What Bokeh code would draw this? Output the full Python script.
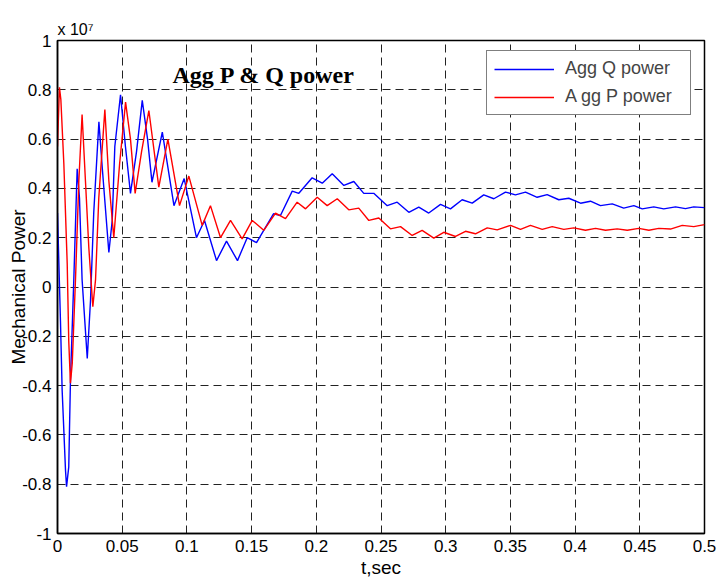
from bokeh.plotting import figure
from bokeh.models import Label, FixedTicker, Range1d
from bokeh.embed import file_html
from bokeh.resources import INLINE

# ---- data (values in units of 1e7) ----
t_q = [0.0, 0.0023, 0.0036, 0.0062, 0.0070, 0.0087, 0.0100, 0.0126, 0.0152, 0.0170,
       0.0190, 0.0230, 0.0255, 0.0280, 0.0320, 0.0345, 0.0397, 0.0423, 0.0443, 0.0487,
       0.0525, 0.0564, 0.0611, 0.0655, 0.0696, 0.0730, 0.0810, 0.0900, 0.0979, 0.1074,
       0.1136, 0.1229, 0.1306, 0.1391, 0.1466, 0.1538, 0.1669, 0.1723, 0.1814, 0.1865,
       0.1968, 0.2046, 0.2123, 0.2213, 0.2290, 0.2367, 0.2444, 0.2548, 0.2625, 0.2715,
       0.2792, 0.2869, 0.2960, 0.3037, 0.3127, 0.3205, 0.3294, 0.3372, 0.3462, 0.3539,
       0.3617, 0.3707, 0.3784, 0.3874, 0.3951, 0.4042, 0.4119, 0.4196, 0.4287, 0.4376,
       0.4454, 0.4519, 0.4608, 0.4685, 0.4776, 0.4853, 0.4917, 0.5]
q_power = [0.30, -0.14, -0.42, -0.745, -0.81, -0.73, -0.38, 0.03, 0.48, 0.36,
           0.03, -0.29, -0.055, 0.30, 0.67, 0.49, 0.14, 0.27, 0.57, 0.78,
           0.57, 0.38, 0.55, 0.757, 0.60, 0.425, 0.628, 0.33, 0.44, 0.20,
           0.27, 0.107, 0.186, 0.107, 0.20, 0.18, 0.297, 0.29, 0.389, 0.38,
           0.443, 0.421, 0.459, 0.412, 0.428, 0.38, 0.38, 0.33, 0.344, 0.303,
           0.324, 0.30, 0.335, 0.317, 0.354, 0.34, 0.374, 0.358, 0.385, 0.374,
           0.385, 0.364, 0.375, 0.354, 0.36, 0.34, 0.348, 0.33, 0.337, 0.32,
           0.33, 0.317, 0.325, 0.317, 0.325, 0.318, 0.325, 0.322]

t_p = [0.0, 0.0015, 0.0026, 0.0049, 0.0075, 0.0087, 0.0100, 0.0114, 0.0139, 0.0165,
       0.0190, 0.0216, 0.0242, 0.0273, 0.0294, 0.0319, 0.0366, 0.0397, 0.0435, 0.0480,
       0.0526, 0.0564, 0.0600, 0.0650, 0.0706, 0.0783, 0.0853, 0.0943, 0.1015, 0.1118,
       0.1182, 0.1260, 0.1337, 0.1427, 0.1505, 0.1594, 0.1685, 0.1762, 0.1852, 0.1917,
       0.2007, 0.2084, 0.2162, 0.2251, 0.2328, 0.2406, 0.2483, 0.2573, 0.2651, 0.2741,
       0.2818, 0.2908, 0.2985, 0.3076, 0.3153, 0.3230, 0.3321, 0.3398, 0.3501, 0.3578,
       0.3655, 0.3746, 0.3823, 0.3913, 0.3990, 0.4080, 0.4158, 0.4235, 0.4325, 0.4403,
       0.4492, 0.4570, 0.4647, 0.4737, 0.4828, 0.4917, 0.5]
p_power = [0.57, 0.81, 0.76, 0.50, 0.095, -0.22, -0.39, -0.31, 0.03, 0.43,
           0.70, 0.43, 0.16, -0.08, 0.03, 0.36, 0.72, 0.43, 0.20, 0.50,
           0.75, 0.60, 0.38, 0.55, 0.716, 0.405, 0.60, 0.33, 0.45, 0.25,
           0.33, 0.20, 0.27, 0.195, 0.27, 0.23, 0.30, 0.277, 0.344, 0.317,
           0.364, 0.33, 0.358, 0.313, 0.32, 0.27, 0.28, 0.236, 0.245, 0.209,
           0.23, 0.198, 0.222, 0.205, 0.226, 0.216, 0.24, 0.232, 0.25, 0.234,
           0.25, 0.234, 0.245, 0.234, 0.24, 0.23, 0.238, 0.23, 0.236, 0.23,
           0.238, 0.23, 0.238, 0.235, 0.25, 0.245, 0.253]

x_ticks = [0.0, 0.05, 0.1, 0.15, 0.2, 0.25, 0.3, 0.35, 0.4, 0.45, 0.5]
x_tick_labels = ["0", "0.05", "0.1", "0.15", "0.2", "0.25", "0.3", "0.35", "0.4", "0.45", "0.5"]
y_ticks = [-1.0, -0.8, -0.6, -0.4, -0.2, 0.0, 0.2, 0.4, 0.6, 0.8, 1.0]
y_tick_labels = ["-1", "-0.8", "-0.6", "-0.4", "-0.2", "0", "0.2", "0.4", "0.6", "0.8", "1"]

legend_labels = ["Agg Q power", "A gg P power"]
title_text = "Agg P & Q power"
exponent_text = "x 10\u2077"
x_label = "t,sec"
y_label = "Mechanical Power"

FONT = "Liberation Sans"

p = figure(width=719, height=583, output_backend="svg", toolbar_location=None,
           x_range=Range1d(0, 0.5), y_range=Range1d(-1, 1),
           min_border_left=57, min_border_right=15, min_border_top=40, min_border_bottom=50)
p.background_fill_color = "white"
p.border_fill_color = "white"
p.outline_line_color = "black"
p.outline_line_width = 1.5

p.line(t_q, q_power, line_color="#0000ff", line_width=1.4, legend_label=legend_labels[0])
p.line(t_p, p_power, line_color="#ff0000", line_width=1.4, legend_label=legend_labels[1])

p.xaxis.ticker = FixedTicker(ticks=x_ticks)
p.yaxis.ticker = FixedTicker(ticks=y_ticks)
p.xaxis.major_label_overrides = dict(zip(x_ticks, x_tick_labels))
p.yaxis.major_label_overrides = dict(zip(y_ticks, y_tick_labels))
for ax in (p.xaxis, p.yaxis):
    ax.major_label_text_font = FONT
    ax.major_label_text_font_size = "17px"
    ax.major_label_text_color = "black"
    ax.axis_line_color = "black"
    ax.axis_line_width = 1.5
    ax.major_tick_in = 0
    ax.major_tick_out = 0
    ax.minor_tick_in = 0
    ax.minor_tick_out = 0
    ax.major_label_standoff = 6
    ax.axis_label_text_font = FONT
    ax.axis_label_text_font_size = "19px"
    ax.axis_label_text_font_style = "normal"
    ax.axis_label_text_color = "black"

p.xaxis.axis_label = x_label
p.xaxis.axis_label_standoff = 2
p.yaxis.axis_label = y_label
p.yaxis.axis_label_standoff = -10

p.title.text = exponent_text
p.title.align = "left"
p.title.offset = 0
p.title.text_font = FONT
p.title.text_font_size = "16px"
p.title.text_font_style = "normal"
p.title.text_color = "black"
p.title.standoff = 5

for g in (p.xgrid, p.ygrid):
    g.grid_line_color = "#222222"
    g.grid_line_dash = "8 5"
    g.grid_line_width = 1

leg = p.legend[0]
leg.location = (429, 418)
leg.padding = 7
leg.spacing = 7
leg.glyph_width = 60
leg.glyph_height = 18
leg.label_height = 18
leg.label_width = 118
leg.label_standoff = 11
leg.label_text_font = FONT
leg.label_text_font_size = "18px"
leg.border_line_color = "black"
leg.border_line_width = 1
leg.background_fill_color = "white"
leg.background_fill_alpha = 1.0
leg.margin = 0

# title inside the plot
p.add_layout(Label(x=115, y=459, x_units="screen", y_units="screen", text=title_text,
                   text_font="Liberation Serif", text_font_style="bold",
                   text_font_size="24px", text_color="black", text_baseline="alphabetic"))

open("out.html", "w").write(file_html(p, INLINE))
